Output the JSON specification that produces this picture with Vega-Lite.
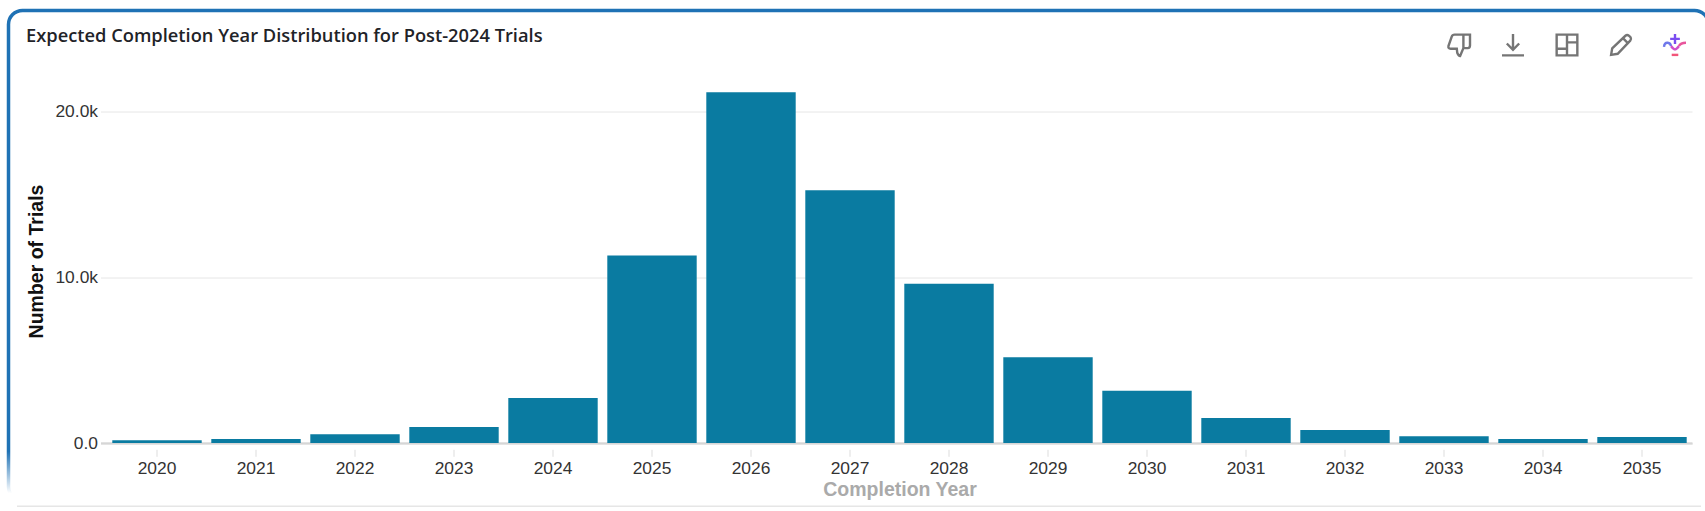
{
"$schema":"https://vega.github.io/schema/vega-lite/v6.json",
"width":1700,"height":490,
"padding":{"left":8.5,"top":10.5,"right":0,"bottom":10},
"autosize":{"type":"none"},
"background":"#ffffff",
"config":{"view":{"stroke":{"gradient":"linear","x1":0,"y1":0,"x2":0,"y2":1,"stops":[{"offset":0,"color":"#1f72b5"},{"offset":0.9,"color":"#1f72b5"},{"offset":0.985,"color":"#ffffff"},{"offset":1,"color":"#ffffff"}]},"strokeWidth":3.5,"cornerRadius":14}},
"title":{"text":"Expected Completion Year Distribution for Post-2024 Trials","anchor":"start","frame":"group","font":"Open Sans","fontSize":18.3,"fontWeight":600,"color":"#1f2328","dx":17.5,"offset":-50,"baseline":"alphabetic"},
"datasets":{
"years":[
{"year":"2020","trials":160},{"year":"2021","trials":240},{"year":"2022","trials":525},{"year":"2023","trials":966},
{"year":"2024","trials":2720},{"year":"2025","trials":11320},{"year":"2026","trials":21170},{"year":"2027","trials":15260},
{"year":"2028","trials":9610},{"year":"2029","trials":5180},{"year":"2030","trials":3150},{"year":"2031","trials":1510},
{"year":"2032","trials":785},{"year":"2033","trials":400},{"year":"2034","trials":240},{"year":"2035","trials":360}],
"icons":[
{"slot":"feedback","icon":"thumb"},{"slot":"download","icon":"download"},{"slot":"layout","icon":"layout"},{"slot":"edit","icon":"pencil"},
{"slot":"assist","icon":"plus"},{"slot":"assist","icon":"waveL"},{"slot":"assist","icon":"bowl"},{"slot":"assist","icon":"waveR"},{"slot":"assist","icon":"under"}]
},
"resolve":{"scale":{"x":"independent","y":"independent"},"axis":{"x":"independent","y":"independent"}},
"layer":[
{
"data":{"name":"years"},
"transform":[{"filter":"datum.trials < 0"}],
"mark":{"type":"bar"},
"encoding":{
"x":{"field":"year","type":"nominal","scale":{"domain":["next card"],"range":[8,1692]},
 "axis":{"orient":"bottom","offset":5.2,"title":null,"labels":false,"ticks":false,"grid":false,"domain":true,"domainColor":"#e6e6e6","domainWidth":1.5}}
}
},
{
"data":{"name":"years"},
"resolve":{"axis":{"x":"independent","y":"independent"}},
"layer":[
{"transform":[{"filter":"datum.trials < 0"}],
 "mark":{"type":"bar"},
 "encoding":{
 "x":{"field":"year","type":"nominal","scale":{"domain":["2020","2021","2022","2023","2024","2025","2026","2027","2028","2029","2030","2031","2032","2033","2034","2035"],"range":[92,1683.5],"paddingInner":0.097,"paddingOuter":0.0864,"align":0.69},
  "axis":{"orient":"bottom","offset":-57.5,"title":null,"labels":false,"ticks":false,"grid":false,"domain":true,"domainColor":"#c6c6c6","domainWidth":2}},
 "y":{"field":"trials","type":"quantitative","scale":{"domain":[0,20000],"range":[432.5,101.2],"nice":false,"zero":true},
  "axis":{"orient":"left","offset":-1683.5,"title":null,"labels":false,"domain":false,"grid":false,"values":[0,10000,20000],"ticks":true,"tickSize":1591.5,"tickColor":"#e6e6e6","tickWidth":1}}
 }},
{"mark":{"type":"bar","color":"#0a7ba1"},
 "encoding":{
 "x":{"field":"year","type":"nominal","scale":{"domain":["2020","2021","2022","2023","2024","2025","2026","2027","2028","2029","2030","2031","2032","2033","2034","2035"],"range":[92,1683.5],"paddingInner":0.097,"paddingOuter":0.0864,"align":0.69},
  "axis":{"orient":"bottom","offset":-51.2,"title":"Completion Year","titleFont":"Liberation Sans","titleFontSize":19.5,"titleFontWeight":"bold","titleColor":"#aaaaaa","titlePadding":4,"titleX":891,"labelAngle":0,"labelFont":"Liberation Sans","labelFontSize":17.4,"labelColor":"#333333","labelPadding":3,"domain":false,"grid":false,"ticks":true,"tickColor":"#dddddd","tickSize":7,"tickWidth":1}},
 "y":{"field":"trials","type":"quantitative","scale":{"domain":[0,20000],"range":[432.5,101.2],"nice":false,"zero":true},
  "axis":{"orient":"left","offset":-92,"values":[0,10000,20000],"labelExpr":"datum.value === 0 ? '0.0' : format(datum.value/1000,'.1f') + 'k'","labelFont":"Liberation Sans","labelFontSize":17.4,"labelColor":"#333333","labelPadding":3,"ticks":false,"domain":false,"grid":false,"title":"Number of Trials","titleFont":"Liberation Sans","titleFontSize":19.5,"titleFontWeight":"bold","titleColor":"#111111","titleX":-64.5,"titleY":250.5,"titleAngle":-90,"titleAlign":"center","titleBaseline":"middle"}}
 }}
]
},
{
"data":{"name":"icons"},
"mark":{"type":"point","filled":false,"size":1936,"strokeWidth":2.4,"opacity":1},
"encoding":{
"x":{"field":"slot","type":"nominal","axis":null,"scale":{"type":"point","domain":["feedback","download","layout","edit","assist"],"range":[1450.5,1666.5],"padding":0}},
"y":{"datum":"row","type":"nominal","axis":null,"scale":{"type":"point","domain":["row"],"range":[34.5,34.5],"padding":0}},
"shape":{"field":"icon","type":"nominal","legend":null,"scale":{"domain":["thumb","download","layout","pencil","plus","waveL","bowl","waveR","under"],"range":[
"M.5,-.47 L-.2,-.47 Q-.3,-.47 -.33,-.38 L-.48,.05 Q-.5,.17 -.38,.17 L-.1,.17 L-.08,.35 Q-.02,.5 .05,.5 L.2,.14 L.4,.14 Q.5,.14 .5,.02 Z M.2,-.47 L.2,.14",
"M0,-.5 L0,.2 M-.28,-.07 L0,.22 L.28,-.07 M-.5,.47 L.5,.47",
"M-.47,-.47 H.47 V.47 H-.47 Z M0,-.47 V.47 M-.47,.17 H0 M0,-.12 H.47",
"M-.45,.45 L-.4,.15 L.2,-.42 Q.28,-.48 .36,-.42 L.44,-.34 Q.48,-.27 .42,-.2 L-.15,.4 Z M.1,-.3 L.3,-.1",
"M0,-.5 V-.05 M-.22,-.28 H.22",
"M-.5,.08 Q-.48,-.12 -.33,-.1 Q-.2,-.08 -.18,.05",
"M-.18,.05 Q-.05,.2 0,.2 Q.05,.2 .18,.05",
"M.18,.05 Q.25,-.1 .5,-.1",
"M-.15,.45 H.15"
]}},
"stroke":{"field":"icon","type":"nominal","legend":null,"scale":{"domain":["thumb","download","layout","pencil","plus","waveL","bowl","waveR","under"],"range":["#757575","#757575","#757575","#757575","#7a4df0","#6f78ea","#d24fc8","#e8559c","#f2557a"]}}
}
}
]
}
